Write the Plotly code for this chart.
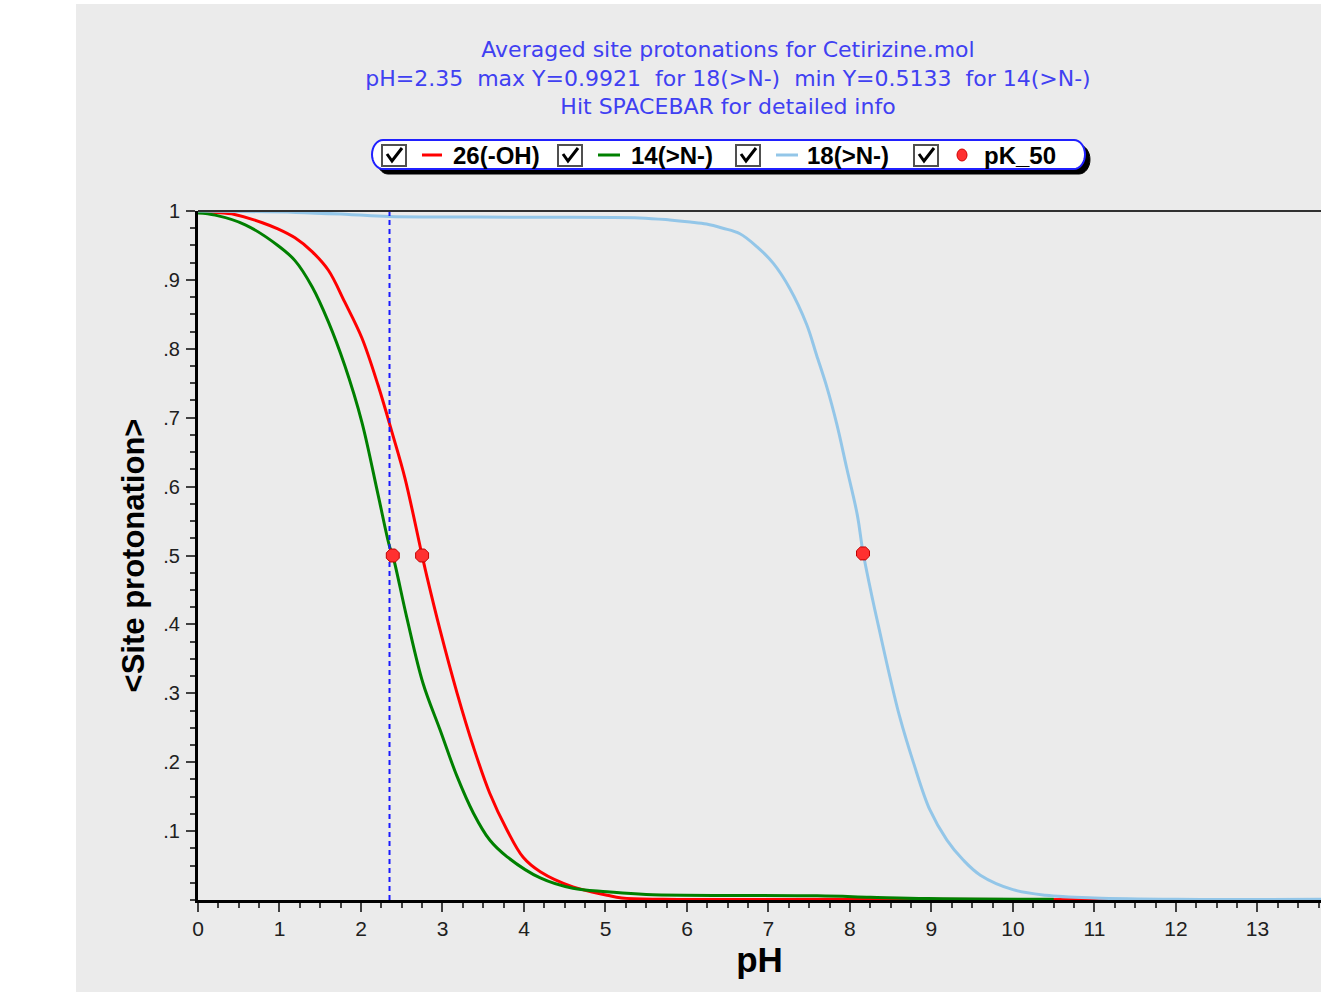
import numpy as np
import plotly.graph_objects as go

# ---------------- data ----------------
ph_26 = [0, 0.17, 0.45, 0.79, 0.98, 1.19, 1.40, 1.6, 1.8, 2.01, 2.21, 2.38, 2.54, 2.75, 2.81,
         2.97, 3.18, 3.38, 3.58, 3.79, 3.99, 4.2, 4.6, 5.02, 5.2, 5.7, 8.2, 13.78]
y_26 = [1.0, 0.998, 0.995, 0.983, 0.974, 0.961, 0.941, 0.914, 0.868, 0.816, 0.747, 0.679,
        0.612, 0.50, 0.469, 0.392, 0.30, 0.222, 0.155, 0.102, 0.062, 0.041, 0.019, 0.007,
        0.003, 0.001, 0.001, 0.0]

ph_14 = [0, 0.21, 0.58, 0.98, 1.19, 1.40, 1.60, 1.80, 2.01, 2.21, 2.35, 2.39, 2.56, 2.76,
         2.97, 3.18, 3.38, 3.58, 3.79, 4.2, 4.6, 5.02, 5.5, 7.6, 8.25, 8.95, 10.5]
y_14 = [0.997, 0.994, 0.980, 0.950, 0.928, 0.89, 0.839, 0.776, 0.694, 0.588, 0.5133, 0.50,
        0.411, 0.315, 0.247, 0.179, 0.126, 0.087, 0.063, 0.032, 0.017, 0.012, 0.008, 0.006,
        0.004, 0.002, 0.001]

ph_18 = [0, 1.2, 1.85, 2.35, 4.0, 5.42, 5.79, 6.04, 6.24, 6.44, 6.65, 6.86, 7.06, 7.26, 7.47,
         7.59, 7.72, 7.84, 7.96, 8.09, 8.16, 8.28, 8.37, 8.49, 8.61, 8.78, 8.98, 9.19, 9.39,
         9.6, 10.0, 10.4, 11.0, 12.0, 13.78]
y_18 = [1.0, 0.998, 0.995, 0.9921, 0.991, 0.990, 0.987, 0.984, 0.981, 0.975, 0.967, 0.948,
        0.924, 0.888, 0.835, 0.791, 0.743, 0.69, 0.627, 0.559, 0.505, 0.435, 0.387, 0.324,
        0.266, 0.199, 0.131, 0.087, 0.058, 0.036, 0.015, 0.007, 0.003, 0.001, 0.001]

pk50_ph = [2.39, 2.75, 8.16]
pk50_y = [0.5, 0.5, 0.503]

cursor_ph = 2.35

x_ticks = list(range(0, 14))
x_ticktext = [str(v) for v in x_ticks]
y_ticks = [0.1, 0.2, 0.3, 0.4, 0.5, 0.6, 0.7, 0.8, 0.9, 1.0]
y_ticktext = [".1", ".2", ".3", ".4", ".5", ".6", ".7", ".8", ".9", "1"]

series_names = ["26(-OH)", "14(>N-)", "18(>N-)", "pK_50"]
series_colors = ["#ff0000", "#008000", "#93c6e8", "#ff3030"]

title_lines = [
    "Averaged site protonations for Cetirizine.mol",
    "pH=2.35\u00a0 max Y=0.9921\u00a0 for 18(&gt;N-)\u00a0 min Y=0.5133\u00a0 for 14(&gt;N-)",
    "Hit SPACEBAR for detailed info",
]

# ---------------- layout geometry ----------------
W, H = 1321, 992
ML, MT, MR, MB = 198, 211, 0, 92
PW, PHt = W - ML - MR, H - MT - MB
X_MAX = 13.78


def fx(px):
    return (px - ML) / PW


def fy(py):
    return (H - MB - py) / PHt


def path_from_px(points, close=True):
    s = "M " + " L ".join(f"{fx(x):.5f},{fy(y):.5f}" for x, y in points)
    return s + (" Z" if close else "")


def capsule(x0, y0, x1, y1, rx):
    ry = (y1 - y0) / 2.0
    yc = (y0 + y1) / 2.0
    pts = []
    for a in np.linspace(-np.pi / 2, np.pi / 2, 17):
        pts.append((x1 - rx + rx * np.cos(a), yc + ry * np.sin(a)))
    for a in np.linspace(np.pi / 2, 3 * np.pi / 2, 17):
        pts.append((x0 + rx + rx * np.cos(a), yc + ry * np.sin(a)))
    return path_from_px(pts)


fig = go.Figure()

for ph, yy, nm, col in [(ph_26, y_26, series_names[0], series_colors[0]),
                        (ph_14, y_14, series_names[1], series_colors[1]),
                        (ph_18, y_18, series_names[2], series_colors[2])]:
    fig.add_trace(go.Scatter(x=ph, y=yy, mode="lines", name=nm,
                             line=dict(color=col, width=3, shape="spline", smoothing=1.0),
                             showlegend=False))
fig.add_trace(go.Scatter(x=[cursor_ph, cursor_ph], y=[0, 1], mode="lines", name="pH cursor",
                         line=dict(color="#1a1aff", width=2, dash="5px,4px"), showlegend=False))
fig.add_trace(go.Scatter(x=pk50_ph, y=pk50_y, mode="markers", name=series_names[3],
                         marker=dict(color=series_colors[3], size=14, symbol="octagon",
                                     line=dict(color="#c00000", width=1)), showlegend=False))

shapes = []
# white strip at left / top of the page (outside grey panel)
shapes.append(dict(type="rect", xref="paper", yref="paper", x0=fx(0), x1=fx(76), y0=fy(H), y1=fy(0),
                   fillcolor="white", line=dict(width=0), layer="below"))
shapes.append(dict(type="rect", xref="paper", yref="paper", x0=fx(0), x1=fx(W), y0=fy(4), y1=fy(0),
                   fillcolor="white", line=dict(width=0), layer="below"))
# top frame line
shapes.append(dict(type="line", xref="paper", yref="paper", x0=0, x1=1, y0=1, y1=1,
                   line=dict(color="#303030", width=2)))

# legend box (shadow + capsule)
LX0, LY0, LX1, LY1 = 372, 140, 1085, 169
shapes.append(dict(type="path", xref="paper", yref="paper",
                   path=capsule(LX0 + 5, LY0 + 5, LX1 + 5, LY1 + 5, 11),
                   fillcolor="black", line=dict(color="black", width=1)))
shapes.append(dict(type="path", xref="paper", yref="paper",
                   path=capsule(LX0, LY0, LX1, LY1, 11),
                   fillcolor="white", line=dict(color="#2020ff", width=2)))

annotations = []
legend_y = 155
check_x = [394, 570, 748, 926]
sample_x = [(422, 442), (598, 620), (776, 798)]
text_x = [451, 629, 805, 982]
for cx in check_x:
    shapes.append(dict(type="rect", xref="paper", yref="paper",
                       x0=fx(cx - 12), x1=fx(cx + 12), y0=fy(legend_y + 11), y1=fy(legend_y - 10),
                       fillcolor="white", line=dict(color="#505050", width=2)))
    shapes.append(dict(type="path", xref="paper", yref="paper",
                       path=path_from_px([(cx - 7, legend_y - 1), (cx - 2, legend_y + 6),
                                          (cx + 8, legend_y - 7)], close=False),
                       line=dict(color="black", width=3)))
for (sx0, sx1), col in zip(sample_x, series_colors[:3]):
    shapes.append(dict(type="line", xref="paper", yref="paper",
                       x0=fx(sx0), x1=fx(sx1), y0=fy(legend_y), y1=fy(legend_y),
                       line=dict(color=col, width=3)))
shapes.append(dict(type="circle", xref="paper", yref="paper",
                   x0=fx(957), x1=fx(967), y0=fy(legend_y + 6), y1=fy(legend_y - 6),
                   fillcolor=series_colors[3], line=dict(color="#d00000", width=1)))
for tx, name in zip(text_x, series_names):
    annotations.append(dict(xref="paper", yref="paper", x=fx(tx), y=fy(legend_y + 1),
                            xanchor="left", yanchor="middle", showarrow=False,
                            text="<b>" + name.replace(">", "&gt;") + "</b>",
                            font=dict(family="Liberation Sans, Arial", size=24, color="black")))

fig.update_layout(
    width=W, height=H,
    margin=dict(l=ML, r=MR, t=MT, b=MB, pad=0),
    paper_bgcolor="#ebebeb", plot_bgcolor="#ebebeb",
    title=dict(text="<br>".join(title_lines), x=728 / W, xanchor="center", xref="container",
               y=1 - 57 / H, yanchor="top", yref="container",
               font=dict(family="DejaVu Sans", size=22, color="#4040f2")),
    shapes=shapes, annotations=annotations,
    showlegend=False,
    xaxis=dict(range=[0, X_MAX], tickvals=x_ticks, ticktext=x_ticktext,
               showgrid=False, zeroline=False, showline=True, linecolor="black", linewidth=3,
               ticks="outside", ticklen=9, tickwidth=1.5, tickcolor="#404040",
               minor=dict(dtick=0.25, tick0=0, ticks="outside", ticklen=5, tickwidth=1.5,
                          tickcolor="#404040", showgrid=False),
               tickfont=dict(family="Liberation Sans, Arial", size=21, color="#202020"),
               ticklabelstandoff=-1,
               title=dict(text="<b>pH</b>", standoff=6,
                          font=dict(family="Liberation Sans, Arial", size=35, color="black"))),
    yaxis=dict(range=[0, 1], tickvals=y_ticks, ticktext=y_ticktext,
               showgrid=False, zeroline=False, showline=True, linecolor="black", linewidth=3,
               ticks="outside", ticklen=9, tickwidth=1.5, tickcolor="#404040",
               minor=dict(dtick=0.025, tick0=0, ticks="outside", ticklen=5, tickwidth=1.5,
                          tickcolor="#404040", showgrid=False),
               tickfont=dict(family="Liberation Sans, Arial", size=20, color="#202020"),
               ticklabelstandoff=2,
               title=dict(text="<b>&lt;Site protonation&gt;</b>", standoff=10,
                          font=dict(family="Liberation Sans, Arial", size=31, color="black"))),
)

fig.write_html("out.html", config={"displayModeBar": False},
               post_script="document.body.style.margin='0';document.body.style.overflow='hidden';")
